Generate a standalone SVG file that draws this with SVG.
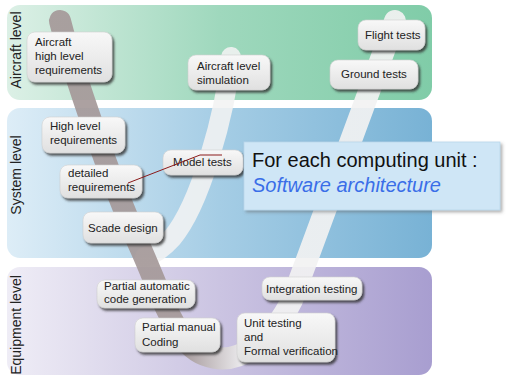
<svg xmlns="http://www.w3.org/2000/svg" width="509" height="377" viewBox="0 0 509 377">
<style>
.lvl{font-family:"Liberation Sans",Arial,sans-serif;font-size:14px;fill:#222}
.bx{fill:url(#boxg);stroke:#d0d0d0;stroke-width:0.6;filter:url(#sh)}
.t{font-family:"Liberation Sans",Arial,sans-serif;font-size:11.5px;fill:#222}
</style>
<defs>
<linearGradient id="gA" x1="0" y1="0" x2="1" y2="0"><stop offset="0" stop-color="#dcf0e6"/><stop offset="0.5" stop-color="#9fd8bd"/><stop offset="1" stop-color="#80cca8"/></linearGradient>
<linearGradient id="gS" x1="0" y1="0" x2="1" y2="0"><stop offset="0" stop-color="#ddedf7"/><stop offset="0.5" stop-color="#a5cde5"/><stop offset="1" stop-color="#78b2d5"/></linearGradient>
<linearGradient id="gE" x1="0" y1="0" x2="1" y2="0"><stop offset="0" stop-color="#efedf6"/><stop offset="0.5" stop-color="#cbc4e2"/><stop offset="1" stop-color="#a89ed0"/></linearGradient>
<linearGradient id="boxg" x1="0" y1="0" x2="0" y2="1"><stop offset="0" stop-color="#f8f8f8"/><stop offset="1" stop-color="#e0e0e0"/></linearGradient>
<linearGradient id="vg" gradientUnits="userSpaceOnUse" x1="185" y1="0" x2="245" y2="0"><stop offset="0" stop-color="#a59999"/><stop offset="1" stop-color="#f2f2f2"/></linearGradient>
<filter id="sh" x="-20%" y="-20%" width="150%" height="160%"><feDropShadow dx="2" dy="2.5" stdDeviation="1.2" flood-color="#333" flood-opacity="0.8"/></filter>
<filter id="sh2" x="-10%" y="-10%" width="130%" height="140%"><feDropShadow dx="2" dy="2" stdDeviation="1.5" flood-color="#666" flood-opacity="0.5"/></filter>
</defs>

<g id="bands">
<rect x="7" y="5" width="425" height="95" rx="13" fill="url(#gA)"/>
<rect x="7" y="108" width="425" height="150" rx="13" fill="url(#gS)"/>
<rect x="7" y="267" width="425" height="108" rx="13" fill="url(#gE)"/>
<text class="lvl" transform="translate(21,50) rotate(-90)" text-anchor="middle">Aircraft level</text>
<text class="lvl" transform="translate(21,175) rotate(-90)" text-anchor="middle">System level</text>
<text class="lvl" transform="translate(21,325) rotate(-90)" text-anchor="middle">Equipment level</text>
</g>

<g id="connectors">
<path d="M231,57 C225,115 200,205 172,238 C163,248 155,254 145,257" fill="none" stroke="#f2f2f2" stroke-opacity="0.88" stroke-width="20" stroke-linecap="round"/>
<path d="M60,21 C73,72 110,180 140,247 C155,280 165,312 182,336 C198,360 228,366 252,348 C272,333 282,320 292,300 L395,21" fill="none" stroke="url(#vg)" stroke-opacity="0.92" stroke-width="22" stroke-linecap="round"/>
</g>

<g id="n-aircraft-req"><rect class="bx" x="27" y="32" width="85" height="50" rx="8"/><text class="t" x="35" y="46">Aircraft</text><text class="t" x="35" y="60">high level</text><text class="t" x="35" y="74">requirements</text></g>
<g id="n-aircraft-sim"><rect class="bx" x="188" y="55" width="82" height="35" rx="8"/><text class="t" x="197" y="70">Aircraft level</text><text class="t" x="197" y="84">simulation</text></g>
<g id="n-flight"><rect class="bx" x="358" y="20" width="67" height="30" rx="8"/><text class="t" x="365" y="39">Flight tests</text></g>
<g id="n-ground"><rect class="bx" x="330" y="60" width="88" height="29" rx="8"/><text class="t" x="341" y="78">Ground tests</text></g>
<g id="n-high-req"><rect class="bx" x="42" y="117" width="83" height="36" rx="8"/><text class="t" x="50" y="130">High level</text><text class="t" x="50" y="144">requirements</text></g>
<g id="n-detailed"><rect class="bx" x="60" y="165" width="82" height="33" rx="8"/><text class="t" x="68" y="177">detailed</text><text class="t" x="68" y="191">requirements</text></g>
<g id="n-model"><rect class="bx" x="163" y="150" width="80" height="25" rx="8"/><text class="t" x="173" y="166">Model tests</text></g>
<g id="n-scade"><rect class="bx" x="83" y="212" width="80" height="31" rx="8"/><text class="t" x="88" y="232">Scade design</text></g>
<g id="n-auto"><rect class="bx" x="97" y="280" width="98" height="28" rx="8"/><text class="t" x="104" y="290">Partial automatic</text><text class="t" x="104" y="303">code generation</text></g>
<g id="n-manual"><rect class="bx" x="135" y="318" width="85" height="34" rx="8"/><text class="t" x="142" y="331">Partial manual</text><text class="t" x="142" y="346">Coding</text></g>
<g id="n-unit"><rect class="bx" x="237" y="313" width="98" height="49" rx="8"/><text class="t" x="244" y="327">Unit testing</text><text class="t" x="244" y="341">and</text><text class="t" x="244" y="355">Formal verification</text></g>
<g id="n-integration"><rect class="bx" x="262" y="277" width="100" height="23" rx="8"/><text class="t" x="266" y="293">Integration testing</text></g>

<g id="link"><polyline points="128,183 200,155 222,155" fill="none" stroke="#8b1a1a" stroke-width="1"/></g>

<g id="callout"><rect x="244" y="142" width="256" height="68" fill="#cfe6f6" stroke="#b9d6ea" stroke-width="0.8" filter="url(#sh2)"/>
<text x="252" y="167" font-family="'Liberation Sans',Arial,sans-serif" font-size="20" fill="#111">For each computing unit :</text>
<text x="252" y="192" font-family="'Liberation Sans',Arial,sans-serif" font-size="20" font-style="italic" fill="#3a6ee8">Software architecture</text></g>
</svg>
